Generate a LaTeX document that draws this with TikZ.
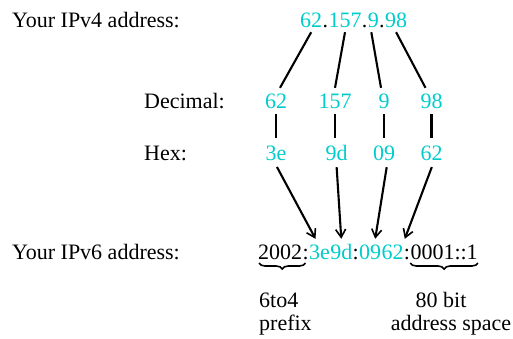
\documentclass[tikz,border=0pt]{standalone}
\usepackage{fontspec}
\setmainfont{Liberation Serif}
\usetikzlibrary{arrows.meta,decorations.pathreplacing}
\definecolor{ipcyan}{RGB}{0,204,204}
\begin{document}
\begin{tikzpicture}[x=1pt,y=-1pt,
  every node/.style={font=\fontsize{22}{26}\selectfont, inner xsep=0pt, inner ysep=5pt, text height=15pt, text depth=0pt},
  lbl/.style={anchor=base west, text=black},
  num/.style={anchor=base, text=ipcyan},
  seg/.style={anchor=base west},
  cy/.style={text=ipcyan},
  link/.style={line width=2.1pt},
  arr/.style={line width=2.1pt, shorten <=2pt, -{Straight Barb[length=8pt,width=10pt,line width=1.6pt]}},
  brc/.style={decorate, decoration={brace,mirror,amplitude=6pt}, line width=1.6pt}]
\useasboundingbox (0,0) rectangle (513,338);

% labels
\node[lbl] (l4) at (12,27) {Your IPv4 address:};
\node[lbl] (ldec) at (144,108) {Decimal:};
\node[lbl] (lhex) at (144,160) {Hex:};
\node[lbl] (l6) at (12,259) {Your IPv6 address:};

% IPv4 address
\node[seg,cy] (p62) at (300,27) {62};
\node[seg] (pd1) at (p62.base east) {.};
\node[seg,cy] (p157) at (pd1.base east) {157};
\node[seg] (pd2) at (p157.base east) {.};
\node[seg,cy] (p9) at (pd2.base east) {9};
\node[seg] (pd3) at (p9.base east) {.};
\node[seg,cy] (p98) at (pd3.base east) {98};

% decimal
\node[num] (d62) at (276,108) {62};
\node[num] (d157) at (335,108) {157};
\node[num] (d9) at (384,108) {9};
\node[num] (d98) at (431.5,108) {98};

% hex
\node[num] (h3e) at (276,160) {3e};
\node[num] (h9d) at (336.5,160) {9d};
\node[num] (h09) at (384,160) {09};
\node[num] (h62) at (431.5,160) {62};

% IPv6 address
\node[seg] (a2002) at (258,259) {2002};
\node[seg] (ac1) at (a2002.base east) {:};
\node[seg,cy] (s3e) at (ac1.base east) {3e};
\node[seg,cy] (s9d) at (s3e.base east) {9d};
\node[seg] (ac2) at (s9d.base east) {:};
\node[seg,cy] (s09) at (ac2.base east) {09};
\node[seg,cy] (s62) at (s09.base east) {62};
\node[seg] (ac3) at (s62.base east) {:};
\node[seg] (a0001) at (ac3.base east) {0001::1};

% bottom texts
\node[lbl] (pf1) at (259,307) {6to4};
\node[lbl] (pf2) at (259,330) {prefix};
\node[anchor=base] (bt1) at (441,307) {80 bit};
\node[anchor=base] (bt2) at (451,330) {address space};

% IPv4 -> decimal
\draw[link] (p62.south) -- ([xshift=4pt]d62.north);
\draw[link] (p157.south) -- (d157.north);
\draw[link] ([xshift=-2pt]p9.south) -- ([xshift=-3pt]d9.north);
\draw[link] (p98.south) -- ([xshift=-6pt]d98.north);

% decimal -> hex
\draw[link, shorten <=1pt, shorten >=2pt] (d62.south) -- (d62.south |- h3e.north);
\draw[link, shorten <=1pt, shorten >=2pt] (d157.south) -- (d157.south |- h9d.north);
\draw[link, shorten <=1pt, shorten >=2pt] (d9.south) -- (d9.south |- h09.north);
\draw[link, shorten <=1pt, shorten >=2pt] (d98.south) -- (d98.south |- h62.north);

% hex -> IPv6
\draw[arr] (h3e.south) -- ([xshift=-4pt]s3e.north);
\draw[arr] (h9d.south) -- (s9d.north);
\draw[arr] ([xshift=3pt]h09.south) -- ([xshift=5pt]s09.north);
\draw[arr] ([xshift=1pt]h62.south) -- ([xshift=1pt]s62.north east);

% braces
\draw[brc] ([yshift=-4pt,xshift=1pt]a2002.base west) -- ([yshift=-4pt,xshift=3pt]a2002.base east);
\draw[brc] ([yshift=-4pt]a0001.base west) -- ([yshift=-4pt]a0001.base east);
\end{tikzpicture}
\end{document}
